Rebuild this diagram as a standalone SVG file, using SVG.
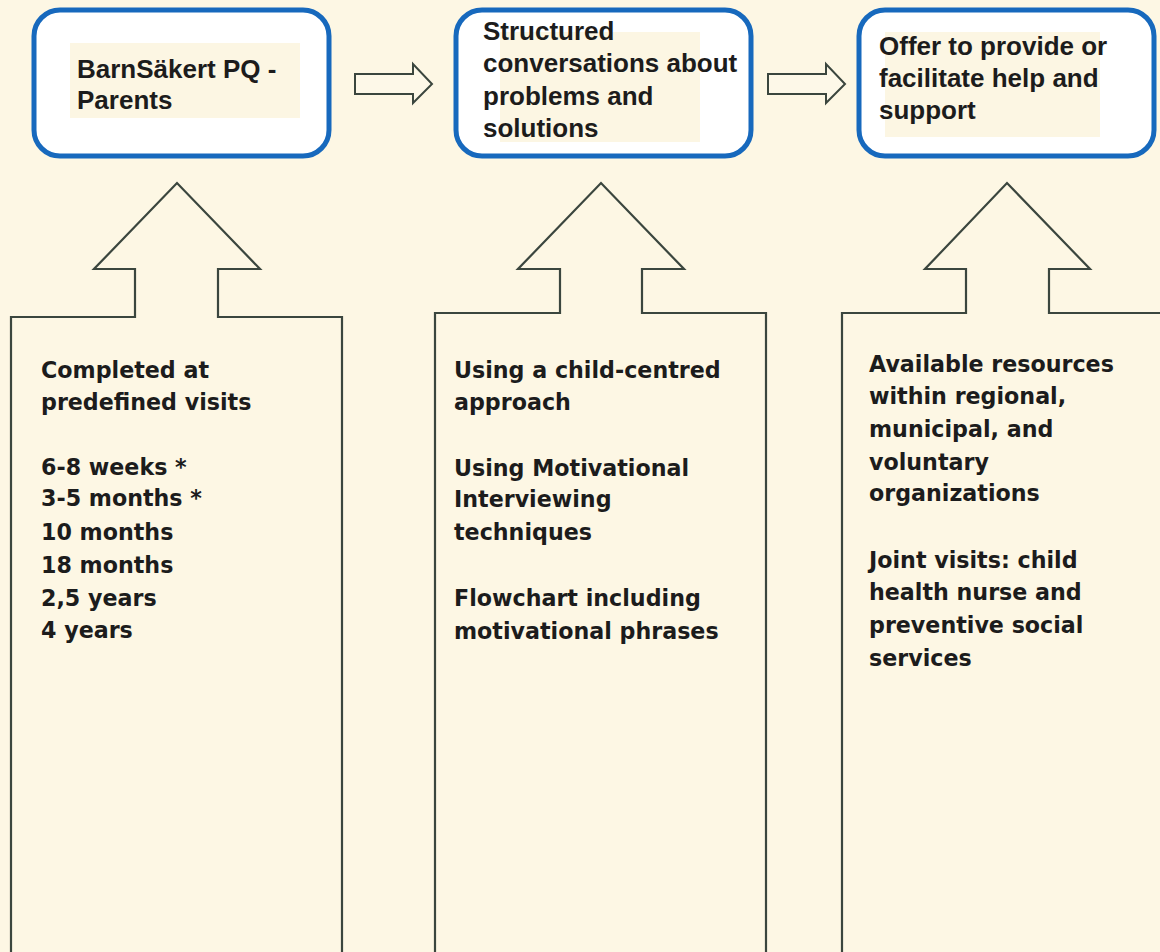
<svg xmlns="http://www.w3.org/2000/svg" width="1160" height="952" viewBox="0 0 1160 952">
<style>
.box{fill:#ffffff;stroke:#1769bd;stroke-width:5}
.patch{fill:#fcf6e3}
.arr{fill:#fdf8e8;stroke:#3b463e;stroke-width:2;stroke-linejoin:miter}
.big{fill:none;stroke:#3b463e;stroke-width:2.2}
text{font-weight:bold;fill:#1c1c1c}
.t{font-family:"Liberation Sans",Arial,sans-serif;font-size:26px}
.b{font-family:"DejaVu Sans",Verdana,sans-serif;font-size:22.2px}
</style>
<rect x="0" y="0" width="1160" height="952" fill="#fdf7e4"/>
<g id="node-barnsakert">
<rect class="box" x="34" y="10" width="295" height="146" rx="26"/>
<rect class="patch" x="70" y="43" width="230" height="75"/>
<text class="t" x="77" y="78">BarnSäkert PQ -</text>
<text class="t" x="77" y="109">Parents</text>
</g>
<g id="node-structured">
<rect class="box" x="456" y="10" width="295" height="146" rx="26"/>
<rect class="patch" x="500" y="32" width="200" height="110"/>
<text class="t" x="483" y="40">Structured</text>
<text class="t" x="483" y="72">conversations about</text>
<text class="t" x="483" y="105">problems and</text>
<text class="t" x="483" y="137">solutions</text>
</g>
<g id="node-offer">
<rect class="box" x="859" y="10" width="295" height="146" rx="26"/>
<rect class="patch" x="885" y="32" width="215" height="105"/>
<text class="t" x="879" y="55">Offer to provide or</text>
<text class="t" x="879" y="87">facilitate help and</text>
<text class="t" x="879" y="119">support</text>
</g>
<g id="node-visits">
<text class="b" x="41" y="378">Completed at</text>
<text class="b" x="41" y="410">predefined visits</text>
<text class="b" x="41" y="475">6-8 weeks *</text>
<text class="b" x="41" y="506">3-5 months *</text>
<text class="b" x="41" y="540">10 months</text>
<text class="b" x="41" y="573">18 months</text>
<text class="b" x="41" y="606">2,5 years</text>
<text class="b" x="41" y="638">4 years</text>
</g>
<g id="node-methods">
<text class="b" x="454" y="378">Using a child-centred</text>
<text class="b" x="454" y="410">approach</text>
<text class="b" x="454" y="476">Using Motivational</text>
<text class="b" x="454" y="507">Interviewing</text>
<text class="b" x="454" y="540">techniques</text>
<text class="b" x="454" y="606">Flowchart including</text>
<text class="b" x="454" y="639">motivational phrases</text>
</g>
<g id="node-resources">
<text class="b" x="869" y="372">Available resources</text>
<text class="b" x="869" y="404">within regional,</text>
<text class="b" x="869" y="437">municipal, and</text>
<text class="b" x="869" y="470">voluntary</text>
<text class="b" x="869" y="501">organizations</text>
<text class="b" x="869" y="568">Joint visits: child</text>
<text class="b" x="869" y="600">health nurse and</text>
<text class="b" x="869" y="633">preventive social</text>
<text class="b" x="869" y="666">services</text>
</g>
<g id="connectors">
<path class="arr" d="M355 74 H413 V64 L432 84 L413 103 V94 H355 Z"/>
<path class="arr" d="M768 74 H826 V64 L845 84 L826 103 V94 H768 Z"/>
<path class="big" d="M11 960 V317 H135 V269 H94 L177 183 L260 269 H218 V317 H342 V960"/>
<path class="big" d="M435 960 V313 H560 V269 H518 L601 183 L684 269 H642 V313 H766 V960"/>
<path class="big" d="M842 960 V313 H966 V269 H925 L1007 183 L1090 269 H1049 V313 H1165"/>
</g>
</svg>
